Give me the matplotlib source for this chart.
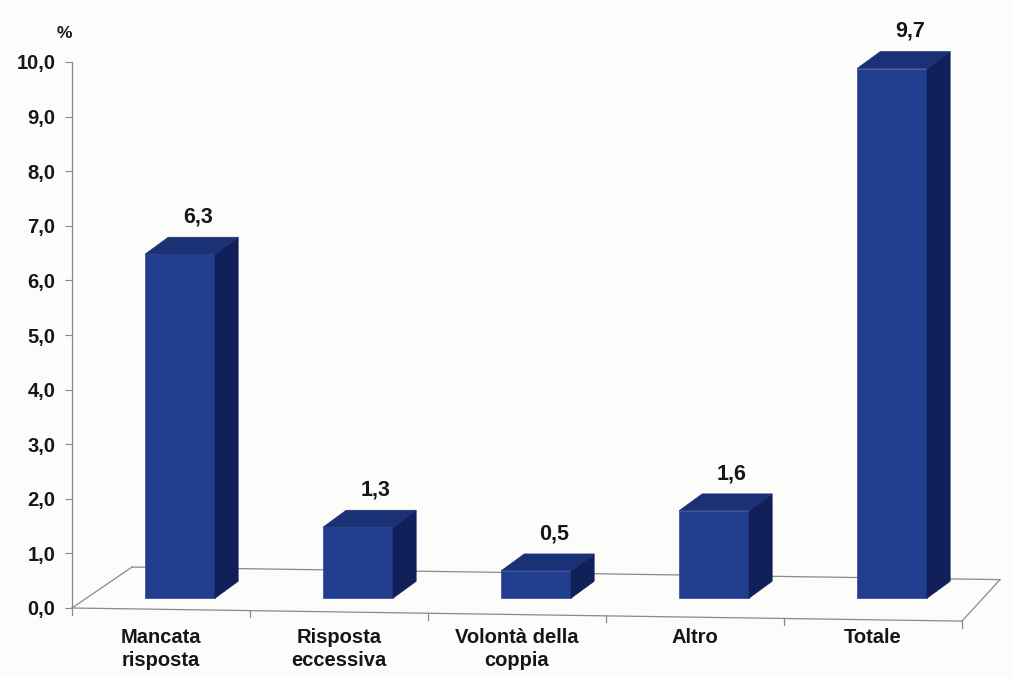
import matplotlib.pyplot as plt
from matplotlib.patches import Polygon
import numpy as np

plt.rcParams['font.family'] = ['Liberation Sans', 'DejaVu Sans']

categories = ["Mancata\nrisposta", "Risposta\neccessiva", "Volontà della\ncoppia", "Altro", "Totale"]
values = [6.3, 1.3, 0.5, 1.6, 9.7]
value_labels = ["6,3", "1,3", "0,5", "1,6", "9,7"]
yticks = [0, 1, 2, 3, 4, 5, 6, 7, 8, 9, 10]
ytick_labels = ["0,0", "1,0", "2,0", "3,0", "4,0", "5,0", "6,0", "7,0", "8,0", "9,0", "10,0"]

W, H = 1013, 678
fig = plt.figure(figsize=(W / 100, H / 100), dpi=100)
bg = '#fcfcfa'
fig.patch.set_facecolor(bg)
ax = fig.add_axes([72 / W, 70 / H, 928 / W, 546 / H])
ax.set_facecolor('none')
ax.set_xlim(-0.5, -0.5 + 928 / 178)
ax.set_ylim(0, 10)

front_c = '#213d8e'
top_c = '#1a3176'
side_c = '#12205a'
line_c = '#8a8a8a'
txt_c = '#161616'

# floor
n = len(categories)
fl, fr = (-0.5, 0.0), (n - 0.5, -0.24)
bl, br = (-0.5 + 60 / 178, 0.75), (-0.5 + 928 / 178, 0.52)
for a, b in [(fl, fr), (fl, bl), (bl, br), (fr, br)]:
    ax.plot([a[0], b[0]], [a[1], b[1]], color=line_c, lw=0.9, zorder=1, clip_on=False)

def front_y(xv):
    return fl[1] + (fr[1] - fl[1]) * (xv - fl[0]) / (fr[0] - fl[0])

for k in range(n + 1):
    xb = -0.5 + k
    y0 = front_y(xb)
    ax.plot([xb, xb], [y0, y0 - 0.12], color=line_c, lw=0.9, zorder=1, clip_on=False)

# bars (pseudo 3D)
x = np.arange(n)
shift_x, base = 0.107, 0.18
width = 0.393
ddx, ddy = 0.13, 0.31
ax.bar(x + shift_x, values, width=width, bottom=base, color=front_c,
       edgecolor='#3a55a0', linewidth=0.6, zorder=3, clip_on=False)
for i, v in enumerate(values):
    x0 = i + shift_x - width / 2
    x1 = x0 + width
    t = base + v
    top = Polygon([(x0, t), (x1, t), (x1 + ddx, t + ddy), (x0 + ddx, t + ddy)],
                  closed=True, facecolor=top_c, edgecolor=top_c, lw=0.5, zorder=3, clip_on=False)
    side = Polygon([(x1, base), (x1 + ddx, base + ddy), (x1 + ddx, t + ddy), (x1, t)],
                   closed=True, facecolor=side_c, edgecolor=side_c, lw=0.5, zorder=3, clip_on=False)
    ax.add_patch(side)
    ax.add_patch(top)
    ax.annotate(value_labels[i], (i + shift_x + 0.1, t + ddy), xytext=(0, 7),
                textcoords='offset points', ha='center', va='bottom',
                fontsize=15.5, fontweight='bold', color=txt_c, annotation_clip=False)

# category labels
for i, lab in enumerate(categories):
    ax.text(i, -0.36, lab, ha='center', va='top', fontsize=14.5, fontweight='bold',
            color=txt_c, linespacing=1.3)

# axes styling
for s in ['top', 'right', 'bottom']:
    ax.spines[s].set_visible(False)
ax.spines['left'].set_color(line_c)
ax.spines['left'].set_linewidth(0.9)
ax.set_xticks([])
ax.set_yticks(yticks)
ax.set_yticklabels(ytick_labels, fontsize=14.5, fontweight='bold', color=txt_c)
ax.tick_params(axis='y', length=5, color=line_c, pad=7)

fig.text(64 / W, 1 - 33 / H, '%', ha='center', va='center', fontsize=12.5,
         fontweight='bold', color=txt_c)

fig.savefig('out.png', dpi=100, facecolor=bg)
